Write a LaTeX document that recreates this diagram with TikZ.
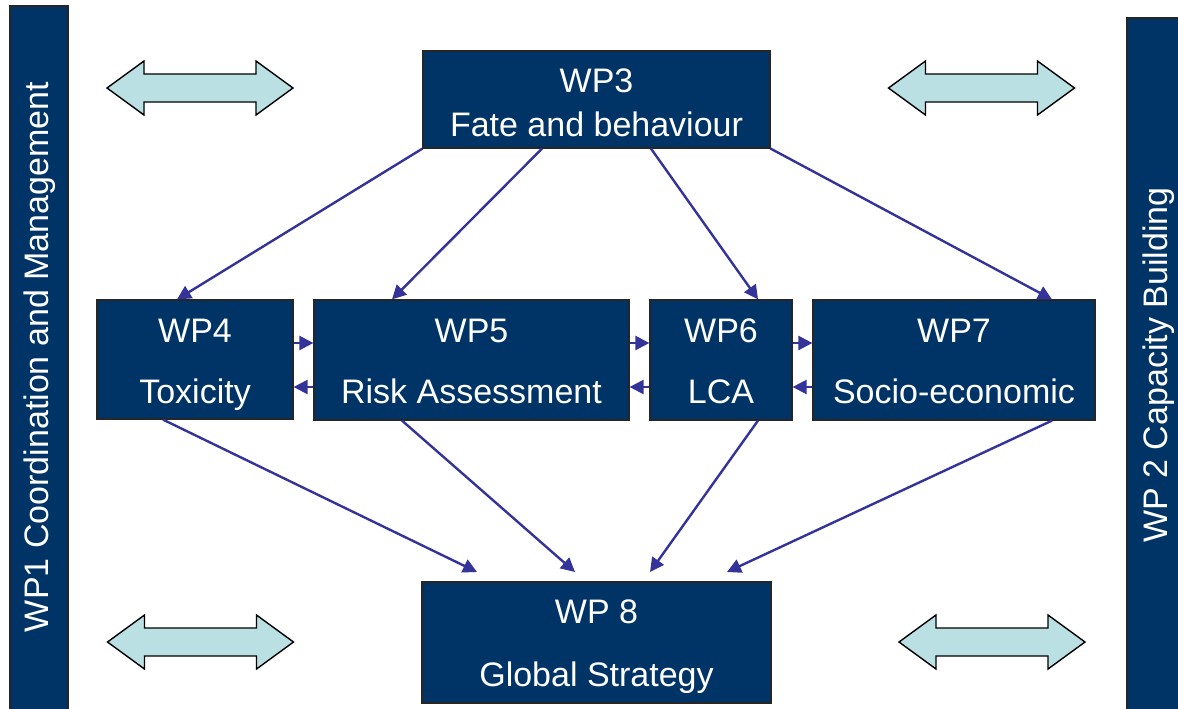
\documentclass[tikz,border=0pt]{standalone}
\usepackage{fontspec}
\setmainfont{Liberation Sans}
\usetikzlibrary{arrows.meta}
\definecolor{navy}{HTML}{003366}
\definecolor{arrowblue}{HTML}{333399}
\definecolor{lightcyan}{HTML}{BBE0E3}
\tikzset{
  wpbox/.style={draw=black!85, line width=0.6pt, fill=navy, inner sep=0pt},
  wptext/.style={text=white, font=\fontsize{17}{20}\selectfont, anchor=base, inner sep=0pt},
  bartext/.style={text=white, font=\fontsize{17}{20}\selectfont, rotate=90, inner sep=0pt},
  flow/.style={draw=arrowblue, line width=1.2pt, -{Triangle[length=7pt,width=7pt]}},
  dblstyle/.style={draw=black, line width=0.7pt, fill=lightcyan, line join=miter},
  dblarrow/.pic={\draw[dblstyle] (-93,0) -- (-56,-27) -- (-56,-14) -- (56,-14) -- (56,-27) -- (93,0) -- (56,27) -- (56,14) -- (-56,14) -- (-56,27) -- cycle;}
}
\begin{document}
\begin{tikzpicture}[x=0.5pt,y=-0.5pt]
\useasboundingbox (0,0) rectangle (1178,708);
\begin{scope}
\clip (0,0) rectangle (1178,708);
% side bars
\node[wpbox, minimum width=29pt, minimum height=356pt] (wp1) at (39,362) {};
\node[bartext] (wp1label) at (40,357) {WP1 Coordination and Management};
\node[wpbox, minimum width=32pt, minimum height=350pt] (wp2) at (1159,368) {};
\node[bartext] (wp2label) at (1159,365) {WP 2 Capacity Building};
\end{scope}

% boxes
\node[wpbox, minimum width=173.5pt, minimum height=48.5pt] (wp3) at (596.5,99.5) {};
\node[wpbox, minimum width=98pt, minimum height=59.5pt] (wp4) at (195,359.5) {};
\node[wpbox, minimum width=157.5pt, minimum height=60pt] (wp5) at (471.5,360) {};
\node[wpbox, minimum width=71pt, minimum height=60pt] (wp6) at (721,360) {};
\node[wpbox, minimum width=141pt, minimum height=60pt] (wp7) at (954,360) {};
\node[wpbox, minimum width=174.5pt, minimum height=60.5pt] (wp8) at (596.5,642.5) {};

% texts
\node[wptext] (wp3a) at (596.5,92) {WP3};
\node[wptext] (wp3b) at (596.5,136) {Fate and behaviour};
\node[wptext] (wp4a) at (195,342) {WP4};
\node[wptext] (wp4b) at (195,403) {Toxicity};
\node[wptext] (wp5a) at (471.5,342) {WP5};
\node[wptext] (wp5b) at (471.5,403) {Risk Assessment};
\node[wptext] (wp6a) at (721,342) {WP6};
\node[wptext] (wp6b) at (721,403) {LCA};
\node[wptext] (wp7a) at (954,342) {WP7};
\node[wptext] (wp7b) at (954,403) {Socio-economic};
\node[wptext] (wp8a) at (596.5,623) {WP 8};
\node[wptext] (wp8b) at (596.5,686) {Global Strategy};

% double arrows
\pic at (200,88) {dblarrow};
\pic at (981.5,88) {dblarrow};
\pic at (200.5,642) {dblarrow};
\pic at (992,642) {dblarrow};

% helper coordinates
\coordinate (rowhi) at (0,343);
\coordinate (rowlo) at (0,387);
\coordinate (t1) at (477,572);
\coordinate (t2) at (575,572);
\coordinate (t3) at (650,572);
\coordinate (t4) at (727,572);

% horizontal arrows
\draw[flow] (wp4.east |- rowhi) -- (wp5.west |- rowhi);
\draw[flow] (wp5.east |- rowhi) -- (wp6.west |- rowhi);
\draw[flow] (wp6.east |- rowhi) -- (wp7.west |- rowhi);
\draw[flow] (wp5.west |- rowlo) -- (wp4.east |- rowlo);
\draw[flow] (wp6.west |- rowlo) -- (wp5.east |- rowlo);
\draw[flow] (wp7.west |- rowlo) -- (wp6.east |- rowlo);

% from WP3
\draw[flow] (wp3.south west) -- ([xshift=-9pt]wp4.north);
\draw[flow] ([xshift=-27.25pt]wp3.south) -- ([xshift=-39.75pt]wp5.north);
\draw[flow] ([xshift=27.25pt]wp3.south) -- ([xshift=18.5pt]wp6.north);
\draw[flow] (wp3.south east) -- ([xshift=49pt]wp7.north);

% to WP8
\draw[flow] ([xshift=-16pt]wp4.south) -- (t1);
\draw[flow] ([xshift=-34.75pt]wp5.south) -- (t2);
\draw[flow] ([xshift=18.5pt]wp6.south) -- (t3);
\draw[flow] ([xshift=49pt]wp7.south) -- (t4);
\end{tikzpicture}
\end{document}
